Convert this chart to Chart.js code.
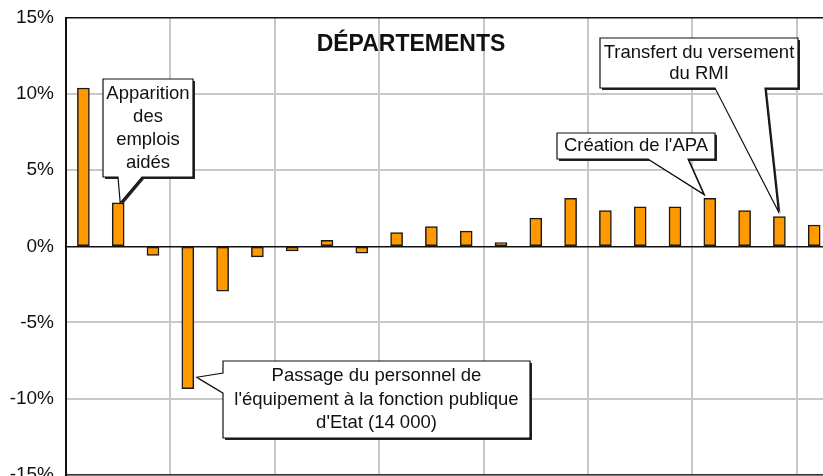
<!DOCTYPE html>
<html>
<head>
<meta charset="utf-8">
<script src="https://cdn.jsdelivr.net/npm/chart.js@4"></script>
<style>
  html, body { margin: 0; padding: 0; background: #fff; overflow: hidden; }
  #wrap { position: absolute; left: 0; top: 0; width: 840px; height: 486px; }
</style>
</head>
<body>
<div id="wrap"><canvas id="chart"></canvas></div>
<script>
// --- data ---
const years = [1984, 1985, 1986, 1987, 1988, 1989, 1990, 1991, 1992, 1993, 1994,
               1995, 1996, 1997, 1998, 1999, 2000, 2001, 2002, 2003, 2004, 2005];
const growth = [10.4, 2.85, -0.6, -9.35, -2.95, -0.7, -0.3, 0.4, -0.45, 0.9, 1.3,
                1.0, 0.25, 1.85, 3.15, 2.35, 2.6, 2.6, 3.15, 2.35, 1.95, 1.4];
const yTicks = [-15, -10, -5, 0, 5, 10, 15];
const chartTitle = 'DÉPARTEMENTS';

// callouts: which bar they point at, and their text
const noteBars = [1, 3, 18, 20];
const noteLines = [
  ['Apparition', 'des', 'emplois', 'aidés'],
  ["Passage du personnel de", "l'équipement à la fonction publique", "d'Etat (14 000)"],
  ["Création de l'APA"],
  ['Transfert du versement', 'du RMI']
];

const FONT = '"Liberation Sans", Arial, sans-serif';

// box geometry for each callout (layout only)
const noteBoxes = [
  { x: 103, y: 79, w: 90, h: 98, lh: 23, base: [[118, 177], [142, 177]], tip: (b) => [b.x + 2, b.y] },
  { x: 223, y: 361, w: 307, h: 77, lh: 23.5, base: [[223, 373], [223, 393]], tip: (b) => [b.x + b.width / 2 + 3, b.base + (b.y - b.base) * 0.92] },
  { x: 557, y: 133, w: 158, h: 26, lh: 22, base: [[648, 159], [688, 159]], tip: (b) => [b.x - 6, b.y - 4] },
  { x: 600, y: 38, w: 198, h: 50, lh: 21, base: [[715, 88], [765, 88]], tip: (b) => [b.x - 1, b.y - 5] }
];

function calloutPath(ctx, box, tip, dx, dy) {
  // box outline with the pointer spliced into the side where its base sits
  const [p1, p2] = box.base;
  const x0 = box.x + dx, y0 = box.y + dy, x1 = box.x + box.w + dx, y1 = box.y + box.h + dy;
  ctx.beginPath();
  if (p1[0] === box.x) {
    // pointer on left side
    ctx.moveTo(x0, y0);
    ctx.lineTo(x1, y0);
    ctx.lineTo(x1, y1);
    ctx.lineTo(x0, y1);
    ctx.lineTo(p2[0] + dx, p2[1] + dy);
    ctx.lineTo(tip[0] + dx, tip[1] + dy);
    ctx.lineTo(p1[0] + dx, p1[1] + dy);
    ctx.closePath();
  } else {
    // pointer on bottom side
    ctx.moveTo(x0, y0);
    ctx.lineTo(x1, y0);
    ctx.lineTo(x1, y1);
    ctx.lineTo(p2[0] + dx, p2[1] + dy);
    ctx.lineTo(tip[0] + dx, tip[1] + dy);
    ctx.lineTo(p1[0] + dx, p1[1] + dy);
    ctx.lineTo(x0, y1);
    ctx.closePath();
  }
}

const calloutPlugin = {
  id: 'callouts',
  afterDatasetsDraw(chart) {
    const ctx = chart.ctx;
    const bars = chart.getDatasetMeta(0).data;

    // title
    ctx.save();
    ctx.font = 'bold 23px ' + FONT;
    ctx.fillStyle = '#111';
    ctx.textAlign = 'center';
    ctx.textBaseline = 'middle';
    ctx.fillText(chartTitle, 411, 45);
    ctx.restore();

    noteBars.forEach((idx, i) => {
      const box = noteBoxes[i];
      const bar = bars[idx];
      const tip = box.tip(bar);
      ctx.save();
      // shadow
      calloutPath(ctx, box, tip, 2, 2);
      ctx.fillStyle = '#222';
      ctx.fill();
      calloutPath(ctx, box, tip, 0, 0);
      ctx.fillStyle = '#fff';
      ctx.fill();
      ctx.strokeStyle = '#111';
      ctx.lineWidth = 1.2;
      ctx.stroke();
      // text
      ctx.font = '18.5px ' + FONT;
      ctx.fillStyle = '#111';
      ctx.textAlign = 'center';
      ctx.textBaseline = 'middle';
      const lines = noteLines[i];
      const cy = box.y + box.h / 2;
      lines.forEach((t, k) => {
        ctx.fillText(t, box.x + box.w / 2, cy + (k - (lines.length - 1) / 2) * box.lh);
      });
      ctx.restore();
    });
  }
};

new Chart(document.getElementById('chart'), {
  type: 'bar',
  data: {
    labels: years,
    datasets: [{
      data: growth,
      backgroundColor: '#FF9900',
      borderColor: '#1a1a1a',
      borderWidth: 1.5,
      borderSkipped: false,
      barThickness: 12
    }]
  },
  options: {
    responsive: true,
    maintainAspectRatio: false,
    animation: false,
    layout: { padding: { left: 0, top: 18, right: 8.4, bottom: 1 } },
    plugins: { legend: { display: false }, tooltip: { enabled: false } },
    scales: {
      x: {
        ticks: { display: false },
        grid: {
          offset: true,
          drawTicks: false,
          lineWidth: 2,
          color: (c) => (c.index % 3 === 0 && c.index > 0) ? '#c8c8c8' : 'rgba(0,0,0,0)'
        },
        border: { display: true, color: '#333', width: 1.5 }
      },
      y: {
        min: -15,
        max: 15,
        afterFit: (s) => { s.width = 66; },
        afterBuildTicks: (s) => { s.ticks = yTicks.map(v => ({ value: v })); },
        ticks: {
          padding: 0,
          color: '#111',
          font: { family: FONT, size: 19 },
          callback: (v) => v + '%'
        },
        grid: {
          drawTicks: true,
          tickLength: 12,
          tickColor: 'rgba(0,0,0,0)',
          lineWidth: (c) => (c.tick && (c.tick.value === 0 || c.tick.value === 15)) ? 1.5 : 2,
          color: (c) => (c.tick && (c.tick.value === 0 || c.tick.value === 15)) ? '#111' : '#c8c8c8'
        },
        border: { display: true, color: '#111', width: 2 }
      }
    }
  },
  plugins: [calloutPlugin]
});
</script>
</body>
</html>
